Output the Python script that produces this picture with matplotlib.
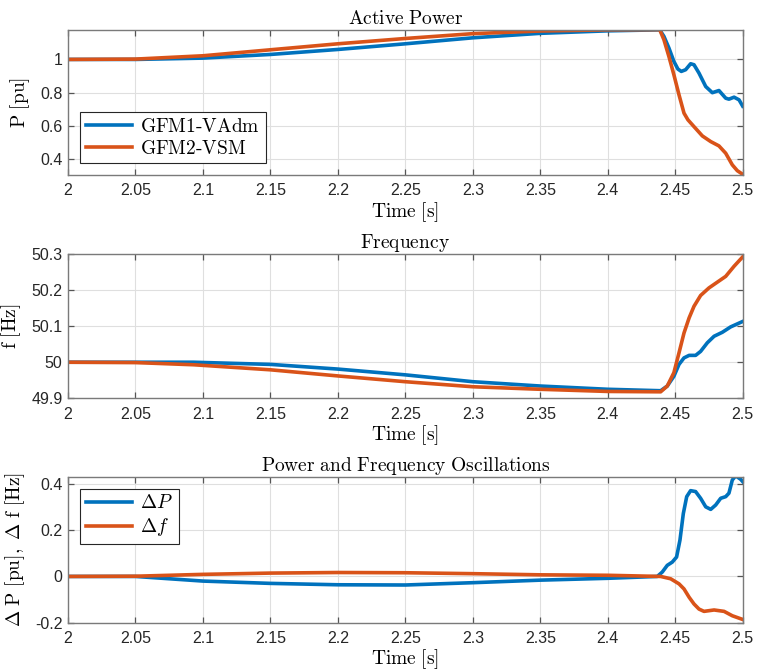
import matplotlib
matplotlib.use('Agg')
import matplotlib.pyplot as plt
from matplotlib.ticker import FuncFormatter

plt.rcParams['mathtext.fontset'] = 'cm'
plt.rcParams['font.family'] = ['Liberation Sans', 'DejaVu Sans']

BLUE = '#0072BD'
ORANGE = '#D95319'

# Active power [pu]
t_p1 = [2.00, 2.05, 2.10, 2.15, 2.20, 2.25, 2.30, 2.35, 2.40, 2.4385, 2.4416,
        2.4453, 2.449, 2.452, 2.4545, 2.4577, 2.4614, 2.4639, 2.4676, 2.4726,
        2.4775, 2.4824, 2.4874, 2.4898, 2.4936, 2.4973, 2.50]
p_gfm1 = [1.000, 1.000, 1.008, 1.030, 1.060, 1.094, 1.130, 1.157, 1.172, 1.178,
          1.139, 1.069, 0.988, 0.942, 0.928, 0.938, 0.974, 0.968, 0.918, 0.837,
          0.800, 0.813, 0.767, 0.761, 0.773, 0.757, 0.719]
t_p2 = [2.00, 2.05, 2.10, 2.15, 2.20, 2.25, 2.30, 2.35, 2.40, 2.4385, 2.4416,
        2.4453, 2.449, 2.4528, 2.4565, 2.4594, 2.4639, 2.4701, 2.4763, 2.4824,
        2.4874, 2.4923, 2.4960, 2.50]
p_gfm2 = [1.000, 1.002, 1.022, 1.058, 1.094, 1.126, 1.155, 1.171, 1.178, 1.179,
          1.119, 1.018, 0.908, 0.787, 0.677, 0.637, 0.596, 0.540, 0.506, 0.480,
          0.436, 0.366, 0.331, 0.309]

# Frequency [Hz]
t_f1 = [2.00, 2.05, 2.093, 2.15, 2.20, 2.25, 2.30, 2.35, 2.40, 2.4392, 2.4441,
        2.449, 2.4528, 2.4565, 2.4603, 2.4651, 2.4688, 2.4738, 2.4788, 2.4849,
        2.4911, 2.50]
f_gfm1 = [50.000, 50.000, 50.000, 49.994, 49.981, 49.965, 49.946, 49.934,
          49.925, 49.921, 49.934, 49.961, 49.994, 50.012, 50.019, 50.019,
          50.030, 50.054, 50.072, 50.083, 50.098, 50.113]
t_f2 = [2.00, 2.05, 2.093, 2.15, 2.20, 2.25, 2.30, 2.35, 2.40, 2.4392, 2.4441,
        2.449, 2.4528, 2.4565, 2.4603, 2.4639, 2.4688, 2.4750, 2.4812, 2.4874,
        2.4936, 2.50]
f_gfm2 = [50.000, 49.999, 49.993, 49.979, 49.962, 49.946, 49.932, 49.925,
          49.919, 49.918, 49.934, 49.971, 50.026, 50.081, 50.123, 50.155,
          50.185, 50.206, 50.222, 50.238, 50.266, 50.292]

# Oscillations
t_dp = [2.00, 2.05, 2.10, 2.15, 2.20, 2.25, 2.30, 2.35, 2.40, 2.4367, 2.4404,
        2.4441, 2.4478, 2.451, 2.4535, 2.456, 2.4585, 2.4614, 2.4651, 2.4688,
        2.4726, 2.4763, 2.48, 2.4837, 2.4874, 2.4898, 2.4923, 2.4948, 2.4985,
        2.50]
d_p = [0.0, 0.0, -0.020, -0.030, -0.036, -0.037, -0.027, -0.016, -0.008, 0.0,
       0.019, 0.048, 0.062, 0.084, 0.157, 0.272, 0.345, 0.371, 0.367, 0.338,
       0.301, 0.290, 0.309, 0.338, 0.345, 0.360, 0.417, 0.435, 0.420, 0.410]
t_df = [2.00, 2.05, 2.10, 2.15, 2.20, 2.25, 2.30, 2.35, 2.40, 2.4392, 2.4466,
        2.4528, 2.4565, 2.4603, 2.4639, 2.4676, 2.4713, 2.4788, 2.4862, 2.4923,
        2.50]
d_f = [0.0, 0.001, 0.009, 0.0145, 0.017, 0.016, 0.012, 0.007, 0.005, 0.0,
       -0.010, -0.032, -0.054, -0.090, -0.119, -0.141, -0.151, -0.145, -0.151,
       -0.170, -0.186]

x_ticks = [2, 2.05, 2.1, 2.15, 2.2, 2.25, 2.3, 2.35, 2.4, 2.45, 2.5]

W, H = 757, 671
fig = plt.figure(figsize=(W / 100, H / 100), dpi=100)


def make_axes(top, bottom):
    left, right = 68, 742.7
    return fig.add_axes([left / W, 1 - bottom / H, (right - left) / W,
                         (bottom - top) / H])


def style(ax, title, ylabel, yticks, ylim):
    ax.set_xlim(2, 2.5)
    ax.set_ylim(*ylim)
    ax.set_xticks(x_ticks)
    ax.set_yticks(yticks)
    fmt = FuncFormatter(lambda v, pos: '%g' % round(v, 4))
    ax.xaxis.set_major_formatter(fmt)
    ax.yaxis.set_major_formatter(fmt)
    ax.grid(True, color='#dfdfdf', lw=0.8)
    ax.set_axisbelow(True)
    for s in ax.spines.values():
        s.set_color('#7a7a7a')
        s.set_linewidth(1.0)
    ax.tick_params(direction='in', top=True, right=True, length=4,
                   width=0.9, color='#555555', labelsize=11.5,
                   labelcolor='#262626', pad=4)
    ax.tick_params(axis='x', pad=6)
    ax.set_title(r'$\mathrm{%s}$' % title.replace(' ', r'\ '), fontsize=14,
                 pad=4)
    ax.set_xlabel(r'$\mathrm{Time\ [s]}$', fontsize=14, labelpad=1)
    ax.set_ylabel(ylabel, fontsize=14, labelpad=6)


def add_legend(ax, loc):
    leg = ax.legend(loc=loc, fontsize=14, fancybox=False,
                    edgecolor='#262626', framealpha=1, handlelength=2.4,
                    borderaxespad=0.6, borderpad=0.3, labelspacing=0.2,
                    handletextpad=0.4)
    leg.get_frame().set_linewidth(0.8)


ax1 = make_axes(29.5, 175)
ax1.plot(t_p1, p_gfm1, color=BLUE, lw=2.6, label=r'$\mathrm{GFM1\text{-}VAdm}$')
ax1.plot(t_p2, p_gfm2, color=ORANGE, lw=2.6, label=r'$\mathrm{GFM2\text{-}VSM}$')
style(ax1, 'Active Power', r'$\mathrm{P\ [pu]}$', [0.4, 0.6, 0.8, 1],
      (0.305, 1.18))
add_legend(ax1, 'lower left')

ax2 = make_axes(254, 398.3)
ax2.plot(t_f1, f_gfm1, color=BLUE, lw=2.6)
ax2.plot(t_f2, f_gfm2, color=ORANGE, lw=2.6)
style(ax2, 'Frequency', r'$\mathrm{f\ [Hz]}$', [49.9, 50, 50.1, 50.2, 50.3],
      (49.9, 50.3))

ax3 = make_axes(477, 622.7)
ax3.plot(t_dp, d_p, color=BLUE, lw=2.6, label=r'$\Delta P$')
ax3.plot(t_df, d_f, color=ORANGE, lw=2.6, label=r'$\Delta f$')
style(ax3, 'Power and Frequency Oscillations',
      r'$\Delta\ \mathrm{P\ [pu],\ }\Delta\ \mathrm{f\ [Hz]}$',
      [-0.2, 0, 0.2, 0.4], (-0.2, 0.43))
add_legend(ax3, 'upper left')

fig.savefig('out.png', dpi=100)
